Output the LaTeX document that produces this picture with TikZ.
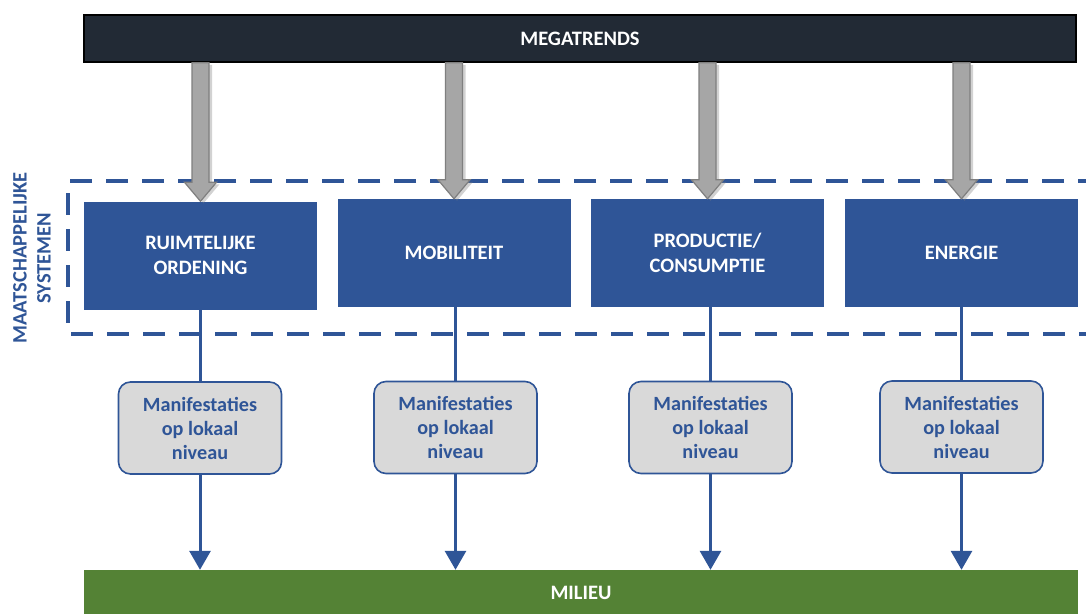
\documentclass[tikz,border=0pt]{standalone}
\usepackage{fontspec}
\setmainfont{Carlito}
\usetikzlibrary{calc,arrows.meta,shadows,positioning}
\definecolor{dblue}{HTML}{2F5597}
\definecolor{dark}{HTML}{222A35}
\definecolor{mgreen}{HTML}{548235}
\definecolor{lgray}{HTML}{D9D9D9}
\definecolor{agray}{HTML}{A6A6A6}
\definecolor{bgray}{HTML}{7F7F7F}
\tikzset{
  sysbox/.style={draw=none,fill=dblue,minimum width=233pt,minimum height=108pt,
    text=white,font=\bfseries\fontsize{20.5}{25}\selectfont,align=center,inner sep=0pt},
  manbox/.style={draw=dblue,line width=1.6pt,fill=lgray,rounded corners=12pt,
    minimum width=163pt,minimum height=92pt,text=dblue,
    font=\bfseries\fontsize{20.2}{24}\selectfont,align=center,inner sep=0pt},
  bar/.style={inner sep=0pt,text=white,font=\bfseries\fontsize{20.5}{25}\selectfont},
  blueline/.style={draw=dblue,line width=3pt},
  bluearrow/.style={blueline,-{Triangle[length=19pt,width=21pt]}},
  grayarrow/.style={fill=agray,draw=bgray,line width=1.2pt,
    drop shadow={opacity=0.35,shadow xshift=3pt,shadow yshift=-2pt}},
  dashbox/.style={draw=dblue,line width=4pt,dash pattern=on 22pt off 14pt},
}
\begin{document}
\begin{tikzpicture}[x=1pt,y=-1pt]
\useasboundingbox (0,0) rectangle (1086,613);
\fill[white] (0,0) rectangle (1086,613);
% bars
\node[bar,fill=dark,draw=black,line width=1.5pt,minimum width=992pt,minimum height=47pt] (meg) at (580,38.5) {MEGATRENDS};
\node[bar,fill=mgreen,minimum width=994pt,minimum height=46pt] (mil) at (581,593) {MILIEU};
% system boxes
\node[sysbox] (b1) at (200.5,255.5) {RUIMTELIJKE\\ORDENING};
\node[sysbox] (b2) at (454,253) {MOBILITEIT};
\node[sysbox] (b3) at (707.5,253) {PRODUCTIE/\\CONSUMPTIE};
\node[sysbox] (b4) at (961.5,253) {ENERGIE};
% dashed frame
\coordinate (dtl) at (68,181);
\coordinate (dbl) at (68,334);
\draw[dashbox] (1100,181) -- (dtl) -- (dbl) -- (1100,334);
% label
\node[rotate=90,text=dblue,font=\bfseries\fontsize{20.5}{24}\selectfont,align=center] (lab) at (32,258) {MAATSCHAPPELIJKE\\SYSTEMEN};
% gray arrows
\foreach \b in {b1,b2,b3,b4}{
  \path[grayarrow] ($(\b.north|-meg.south)+(-8.5,0)$) -- ($(\b.north)+(-8.5,-19)$) -- ($(\b.north)+(-16,-19)$) -- (\b.north) -- ($(\b.north)+(16,-19)$) -- ($(\b.north)+(8.5,-19)$) -- ($(\b.north|-meg.south)+(8.5,0)$) -- cycle;
}
% manifestaties
\node[manbox] (m1) at (200,428) {Manifestaties\\op lokaal\\niveau};
\node[manbox] (m2) at (455.5,427.5) {Manifestaties\\op lokaal\\niveau};
\node[manbox] (m3) at (710.5,427.5) {Manifestaties\\op lokaal\\niveau};
\node[manbox] (m4) at (961.5,427) {Manifestaties\\op lokaal\\niveau};
% connectors
\foreach \i in {1,2,3,4}{
  \draw[blueline] (m\i.north|-b\i.south) -- (m\i.north);
  \draw[bluearrow] (m\i.south) -- (m\i.south|-mil.north);
}
\end{tikzpicture}
\end{document}
